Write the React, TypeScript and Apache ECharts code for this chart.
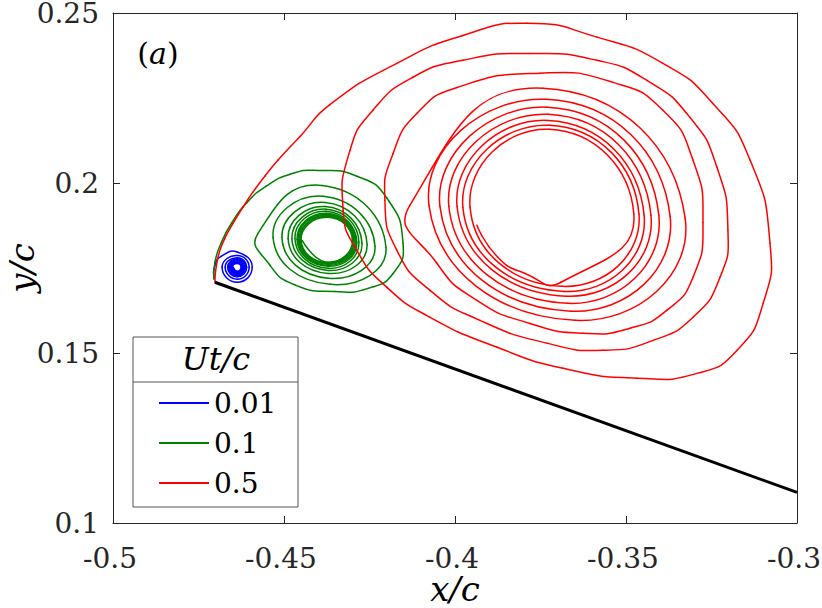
import React, { useEffect, useRef } from "react";
import * as echarts from "echarts";

const FONT = "DejaVu Serif";
const FS = 28; // tick and legend labels
const FS_NAME = 34; // axis names
const AXIS_COLOR = "#262626";

const seriesNames = ["0.01", "0.1", "0.5"];
const seriesColors = ["#0000ff", "#008000", "#ff0000"];
const xTickLabels = ["-0.5", "-0.45", "-0.4", "-0.35", "-0.3"];
const yTickLabels = ["0.1", "0.15", "0.2", "0.25"];

// flat plate (black)
const plate = [
  [-0.4702, 0.1708],
  [-0.3, 0.109],
];

// Ut/c = 0.01
const blue = [
  [-0.4705, 0.172], [-0.4702, 0.1758], [-0.4684, 0.1784],
  [-0.4637, 0.1797], [-0.4593, 0.1752], [-0.4637, 0.1708], [-0.4681, 0.1752],
  [-0.4637, 0.1787], [-0.4602, 0.1752], [-0.4637, 0.1717], [-0.4672, 0.1752],
  [-0.4637, 0.178], [-0.4609, 0.1752], [-0.4637, 0.1724], [-0.4665, 0.1752],
  [-0.4637, 0.1777], [-0.4612, 0.1752], [-0.4637, 0.1727], [-0.4662, 0.1752],
  [-0.4637, 0.1774], [-0.4615, 0.1752], [-0.4637, 0.173], [-0.4659, 0.1752],
  [-0.4637, 0.1771], [-0.4618, 0.1752], [-0.4637, 0.1733], [-0.4656, 0.1752],
  [-0.4637, 0.1768], [-0.4621, 0.1752], [-0.4637, 0.1736], [-0.4653, 0.1752],
  [-0.4637, 0.17655], [-0.46235, 0.1752], [-0.4637, 0.17385], [-0.46505, 0.1752],
  [-0.4637, 0.17635], [-0.46255, 0.1752], [-0.4637, 0.17405], [-0.46485, 0.1752],
];

// Ut/c = 0.1
const green = [
  [-0.4705, 0.1717], [-0.4702, 0.1767], [-0.4684, 0.1823], [-0.4652, 0.1884],
  [-0.4608, 0.1943], [-0.4553, 0.199], [-0.4482, 0.2026], [-0.4404, 0.2037],
  [-0.4287, 0.202], [-0.4199, 0.1955], [-0.4152, 0.1823], [-0.4181, 0.1734],
  [-0.4254, 0.169], [-0.4351, 0.1681], [-0.4465, 0.1699], [-0.4541, 0.1758],
  [-0.4576, 0.1852],
  [-0.4389, 0.1993], [-0.4202, 0.1811], [-0.4365, 0.1702], [-0.4532, 0.184],
  [-0.4386, 0.1961], [-0.4234, 0.1814], [-0.4371, 0.172], [-0.4506, 0.184],
  [-0.438, 0.1943], [-0.4257, 0.182], [-0.4371, 0.1734], [-0.4488, 0.1837],
  [-0.438, 0.1931], [-0.4272, 0.1823], [-0.4371, 0.1743], [-0.4477, 0.1837],
  [-0.4377, 0.1923], [-0.4281, 0.1826], [-0.4371, 0.1749], [-0.4468, 0.1837],
  [-0.4377, 0.1917], [-0.4287, 0.1826], [-0.4371, 0.1755], [-0.4462, 0.1834],
  [-0.4377, 0.1911], [-0.4289, 0.1829], [-0.4371, 0.1758], [-0.4459, 0.1834],
  [-0.4377, 0.1908], [-0.4292, 0.1829], [-0.4371, 0.1761], [-0.4456, 0.1834],
  [-0.4374, 0.1905], [-0.4295, 0.1829], [-0.4371, 0.1764], [-0.4453, 0.1834],
  [-0.4374, 0.1902], [-0.4298, 0.1831], [-0.4371, 0.1765], [-0.445, 0.1833],
  [-0.4374, 0.1899], [-0.43, 0.1831], [-0.4371, 0.1767], [-0.4447, 0.1831],
];

// Ut/c = 0.5
const red = [
  [-0.4702, 0.1708], [-0.4693, 0.1781], [-0.4673, 0.1837], [-0.4649, 0.1881],
  [-0.462, 0.1929], [-0.4591, 0.1973], [-0.4556, 0.202], [-0.4518, 0.2067],
  [-0.4453, 0.2137], [-0.4365, 0.2231], [-0.417, 0.2352], [-0.3977, 0.2434],
  [-0.3789, 0.247], [-0.3585, 0.2429], [-0.3392, 0.2352], [-0.3246, 0.2234],
  [-0.3137, 0.2067], [-0.3079, 0.1823], [-0.3099, 0.1646], [-0.3175, 0.1508],
  [-0.3292, 0.144], [-0.3468, 0.1426], [-0.3684, 0.1455], [-0.3877, 0.1517],
  [-0.4073, 0.1605], [-0.4199, 0.1693], [-0.4287, 0.1802], [-0.4327, 0.192],
  [-0.4307, 0.2096], [-0.424, 0.2214], [-0.4123, 0.2311], [-0.3977, 0.2361],
  [-0.3781, 0.2381], [-0.3585, 0.2361], [-0.3439, 0.2302], [-0.3313, 0.2193],
  [-0.3234, 0.2046], [-0.3202, 0.1861], [-0.3225, 0.1723], [-0.3304, 0.1605],
  [-0.3421, 0.1537], [-0.3567, 0.1508], [-0.3731, 0.1529], [-0.3927, 0.1596],
  [-0.4073, 0.1684], [-0.417, 0.1802], [-0.4205, 0.1949], [-0.4181, 0.2087],
  [-0.4111, 0.2205], [-0.3994, 0.2281], [-0.3751, 0.2323], [-0.3538, 0.2296],
  [-0.3392, 0.2214], [-0.3304, 0.2067], [-0.3275, 0.1884], [-0.3304, 0.1723],
  [-0.338, 0.1626], [-0.3488, 0.1573], [-0.3626, 0.1558], [-0.3781, 0.1587],
  [-0.3936, 0.1655], [-0.4053, 0.1764], [-0.4132, 0.1934],
  [-0.3743, 0.2279], [-0.3327, 0.1896], [-0.3649, 0.1596], [-0.4076, 0.1934],
  [-0.3734, 0.2246], [-0.3371, 0.1902], [-0.3661, 0.1623], [-0.4044, 0.1931],
  [-0.3731, 0.2223], [-0.3404, 0.1905], [-0.367, 0.1646], [-0.4018, 0.1931],
  [-0.3728, 0.2202], [-0.3427, 0.1905], [-0.3675, 0.1667], [-0.3994, 0.1931],
  [-0.3728, 0.2184], [-0.3447, 0.1905], [-0.3681, 0.1681], [-0.3977, 0.1929],
  [-0.3725, 0.217], [-0.3462, 0.1908], [-0.3687, 0.1696], [-0.3956, 0.1929],
  [-0.3725, 0.2158], [-0.3477, 0.1908], [-0.369, 0.1708],
  [-0.3795, 0.1734], [-0.3874, 0.1781], [-0.3936, 0.1876],
];

const spiralData = [blue, green, red];

// Bezier handle factor used when joining the read points with a smooth curve
const HANDLE = 0.55;

function smoothSegments(pts: number[][]) {
  const n = pts.length;
  const segs: any[] = [];
  const cpIn: number[][] = [];
  const cpOut: number[][] = [];
  for (let i = 0; i < n; i++) {
    if (i === 0 || i === n - 1) {
      cpIn.push(pts[i]);
      cpOut.push(pts[i]);
      continue;
    }
    const p = pts[i], a = pts[i - 1], b = pts[i + 1];
    const vx = b[0] - a[0], vy = b[1] - a[1];
    const d0 = Math.hypot(p[0] - a[0], p[1] - a[1]);
    const d1 = Math.hypot(b[0] - p[0], b[1] - p[1]);
    const s = d0 + d1 || 1;
    cpIn.push([p[0] - vx * HANDLE * (d0 / s), p[1] - vy * HANDLE * (d0 / s)]);
    cpOut.push([p[0] + vx * HANDLE * (d1 / s), p[1] + vy * HANDLE * (d1 / s)]);
  }
  for (let i = 0; i < n - 1; i++) {
    segs.push({
      x1: pts[i][0], y1: pts[i][1],
      cpx1: cpOut[i][0], cpy1: cpOut[i][1],
      cpx2: cpIn[i + 1][0], cpy2: cpIn[i + 1][1],
      x2: pts[i + 1][0], y2: pts[i + 1][1],
    });
  }
  return segs;
}

function axisCommon(labels: string[] | null) {
  return {
    axisLine: { show: true, onZero: false, lineStyle: { color: AXIS_COLOR, width: 1 } },
    axisTick: { show: true, inside: true, length: 7, lineStyle: { color: AXIS_COLOR, width: 1 } },
    splitLine: { show: false },
    axisLabel: labels
      ? {
          show: true,
          fontSize: FS,
          fontFamily: FONT,
          color: AXIS_COLOR,
          formatter: (_v: number, i: number) => labels[i] ?? "",
        }
      : { show: false },
  };
}

const nameStyle = {
  fontSize: FS_NAME,
  fontFamily: FONT,
  fontStyle: "italic",
  color: "#000",
  lineHeight: 34,
};

export default function App() {
  const ref = useRef<HTMLDivElement>(null);

  useEffect(() => {
    if (!ref.current) return;
    const chart = echarts.init(ref.current, null, { renderer: "svg" });

    const series: any[] = spiralData.map((d, i) => ({
      type: "custom",
      name: seriesNames[i],
      coordinateSystem: "cartesian2d",
      data: d,
      encode: { x: 0, y: 1 },
      clip: true,
      silent: true,
      z: 2 + i,
      itemStyle: { color: seriesColors[i] },
      renderItem: (params: any, api: any) => {
        if (params.dataIndex !== 0) return null;
        const px = d.map((p) => api.coord(p));
        return {
          type: "group",
          children: smoothSegments(px).map((shape) => ({
            type: "bezierCurve",
            shape,
            style: { stroke: seriesColors[i], lineWidth: 1.5, fill: null, lineCap: "round" },
          })),
        };
      },
    }));
    series.push({
      type: "line",
      name: "plate",
      data: plate,
      symbol: "none",
      lineStyle: { color: "#000", width: 3 },
      itemStyle: { color: "#000" },
      z: 6,
      silent: true,
    });

    const xBase = axisCommon(xTickLabels);
    const yBase = axisCommon(yTickLabels);

    chart.setOption({
      animation: false,
      backgroundColor: "#fff",
      grid: { left: 113, right: 25, top: 13, bottom: 85, containLabel: false, outerBoundsMode: "none" },
      xAxis: [
        {
          type: "value",
          min: -0.5,
          max: -0.3,
          interval: 0.05,
          position: "bottom",
          ...xBase,
          axisLabel: { ...(xBase.axisLabel as any), margin: 23, lineHeight: 24, padding: [0, 6, 0, 0] },
          name: "x/c",
          nameLocation: "middle",
          nameGap: 49,
          nameMoveOverlap: false,
          nameTextStyle: nameStyle,
        },
        {
          type: "value",
          min: -0.5,
          max: -0.3,
          interval: 0.05,
          position: "top",
          ...axisCommon(null),
        },
      ],
      yAxis: [
        {
          type: "value",
          min: 0.1,
          max: 0.25,
          interval: 0.05,
          position: "left",
          ...yBase,
          axisLabel: { ...(yBase.axisLabel as any), margin: 14, lineHeight: 20, padding: [5, 0, 0, 0] },
          name: "y/c",
          nameLocation: "middle",
          nameGap: 74,
          nameRotate: 90,
          nameMoveOverlap: false,
          nameTextStyle: nameStyle,
        },
        {
          type: "value",
          min: 0.1,
          max: 0.25,
          interval: 0.05,
          position: "right",
          ...axisCommon(null),
        },
      ],
      legend: {
        data: seriesNames,
        orient: "vertical",
        left: 154,
        top: 381,
        icon: "rect",
        itemWidth: 50,
        itemHeight: 2,
        itemGap: 6,
        selectedMode: false,
        textStyle: { fontSize: FS, fontFamily: FONT, color: "#000", lineHeight: 34 },
        z: 10,
      },
      graphic: [
        {
          type: "rect",
          z: 8,
          shape: { x: 133, y: 337, width: 165, height: 170 },
          style: { fill: "#fff", stroke: "#555", lineWidth: 1 },
        },
        {
          type: "line",
          z: 9,
          shape: { x1: 133, y1: 382, x2: 298, y2: 382 },
          style: { stroke: "#555", lineWidth: 1 },
        },
        {
          type: "text",
          z: 9,
          x: 216,
          y: 359,
          style: {
            text: "Ut/c",
            fontSize: 32,
            fontFamily: FONT,
            fontStyle: "italic",
            fill: "#000",
            align: "center",
            verticalAlign: "middle",
          },
        },
        {
          type: "text",
          z: 9,
          x: 158,
          y: 53,
          style: {
            text: "({i|a})",
            rich: { i: { fontStyle: "italic", fontSize: 30, fontFamily: FONT, color: "#000" } },
            fontSize: 30,
            fontFamily: FONT,
            fill: "#000",
            align: "center",
            verticalAlign: "middle",
          },
        },
      ],
      series,
    });

    return () => chart.dispose();
  }, []);

  return (
    <div
      ref={ref}
      style={{ position: "absolute", left: 0, top: 0, width: 822, height: 608, background: "#fff" }}
    />
  );
}
